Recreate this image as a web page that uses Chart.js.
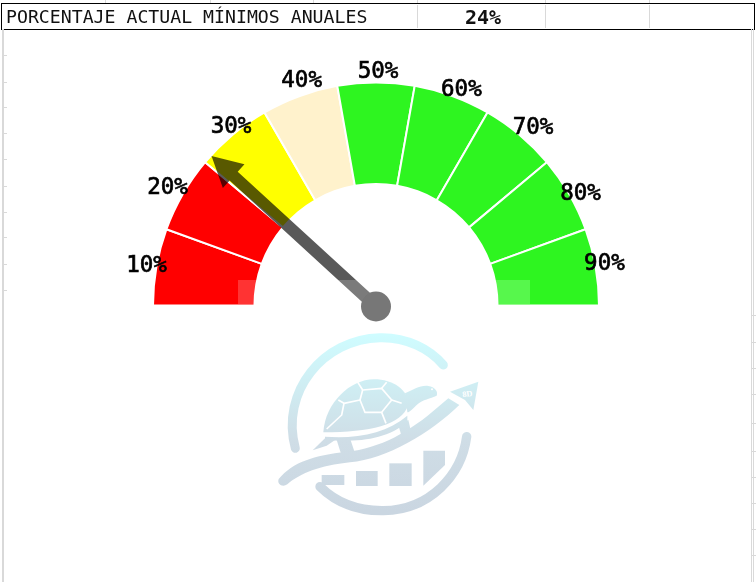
<!DOCTYPE html>
<html>
<head>
<meta charset="utf-8">
<script src="https://cdn.jsdelivr.net/npm/chart.js@4"></script>
<style>
  html, body { margin: 0; padding: 0; background: #fff; }
  #page { position: relative; width: 756px; height: 582px; overflow: hidden; font-family: "DejaVu Sans Mono", monospace; }
  #page > * { position: absolute; }
  #chart { left: 0; top: 0; }
  #logo { left: 270px; top: 325px; }
  #row { left: 1px; top: 3px; width: 752px; height: 25px; border: 1.5px solid #000; }
  #rowName { left: 6px; top: 5px; font-size: 18.2px; line-height: 24px; color: #111; }
  #rowValue { left: 465px; top: 5px; font-size: 20px; line-height: 24px; font-weight: bold; color: #111; }
  .v { width: 1px; background: #d9d9d9; }
  .h { height: 1px; background: #d9d9d9; }
</style>
</head>
<body>
<div id="page">
  <svg id="logo" width="220" height="200" viewBox="0 0 660 600">
    <defs>
      <linearGradient id="lg" gradientUnits="userSpaceOnUse" x1="0" y1="30" x2="0" y2="560">
        <stop offset="0" stop-color="#CFFCFF"/>
        <stop offset="0.35" stop-color="#CFEAF0"/>
        <stop offset="0.6" stop-color="#CFDDE6"/>
        <stop offset="1" stop-color="#CAD6E1"/>
      </linearGradient>
    </defs>
    <g fill="none" stroke="url(#lg)" stroke-linecap="round">
      <path stroke-width="27" d="M76 370 C30 200 160 42 330 38 C410 36 480 72 520 120"/>
      <path stroke-width="28" d="M590 335 C575 450 480 555 340 557 C260 558 195 530 150 485"/>
    </g>
    <g fill="url(#lg)">
      <path d="M26 462 C70 410 130 392 230 380 C330 370 420 320 505 245 L535 220 L568 240 C480 325 350 402 240 412 C150 422 90 445 52 478 C38 488 20 478 26 462 Z"/>
      <path d="M625 170 L610 255 L585 225 L540 200 Z"/>
      <path d="M160 322 C165 235 240 163 312 163 C370 163 415 195 415 240 C395 300 300 322 160 322 Z"/>
      <path d="M405 205 C430 195 450 180 475 183 C495 186 505 200 500 212 C480 222 460 222 440 240 C425 255 418 262 412 262 Z"/>
      <path d="M385 300 L415 285 L425 328 L398 345 Z"/>
      <path d="M200 345 L240 340 L255 385 L215 392 Z"/>
      <path d="M128 376 L165 340 L205 338 L170 362 Z"/>
      <path d="M165 335 C260 342 350 325 412 272 L412 290 C350 345 260 352 165 345 Z"/>
      <rect x="155" y="450" width="68" height="30"/>
      <rect x="258" y="438" width="65" height="45"/>
      <rect x="358" y="415" width="67" height="68"/>
      <path d="M460 377 H525 V420 L460 482 Z"/>
    </g>
    <g fill="none" stroke="#fff" stroke-width="5" stroke-linejoin="round">
      <path d="M278 195 L335 190 L365 225 L335 262 L285 262 L270 225 Z"/>
      <path d="M278 195 L262 170 M335 190 L350 172 M365 225 L395 235 M335 262 L348 295 M270 225 L222 235 L205 225 M222 235 L215 270 L170 312"/>
    </g>
    <circle cx="486" cy="193" r="3" fill="#fff"/>
    <text x="592" y="215" font-family="Liberation Serif" font-size="25" font-weight="bold" text-anchor="middle" fill="#fff" transform="rotate(-8 592 207)">8D</text>
  </svg>
  <canvas id="chart" width="756" height="582"></canvas>
  <div id="row"></div>
  <div id="rowName"></div>
  <div id="rowValue"></div>
</div>
<script>
// gauge sectors, all the same width
const gaugeLabels = ["10%", "20%", "30%", "40%", "50%", "60%", "70%", "80%", "90%"];
const gaugeSizes = [1, 1, 1, 1, 1, 1, 1, 1, 1];
const gaugeColors = ["#FF0000", "#FF0000", "#FFFF00", "#FFF2CC", "#2EF520", "#2EF520", "#2EF520", "#2EF520", "#2EF520"];
// where the needle sits, on a 0-100 half circle
const needleValue = 23.6;
const rowName = "PORCENTAJE ACTUAL MÍNIMOS ANUALES";
const rowValue = "24%";
// spreadsheet lines left visible behind the chart
const rowCols = [417, 545, 649];
const topCols = [105, 210, 313, 417, 545, 649];
const rightRows = [315, 342, 368, 394, 423, 451, 477, 503, 529, 555];
const leftRows = [55, 82, 107, 133, 159, 186, 212, 237, 264, 290];

document.getElementById("rowName").textContent = rowName;
document.getElementById("rowValue").textContent = rowValue;

const page = document.getElementById("page");
function addLine(cls, x, y, size) {
  const d = document.createElement("div");
  d.className = cls;
  d.style.left = x + "px";
  d.style.top = y + "px";
  if (cls == "v") d.style.height = size + "px"; else d.style.width = size + "px";
  page.appendChild(d);
}
rowCols.forEach(x => addLine("v", x, 5, 23));
topCols.forEach(x => addLine("v", x, 0, 3));
addLine("v", 2, 29, 553);
addLine("v", 3, 29, 553);
addLine("v", 751, 29, 553);
addLine("v", 753, 29, 553);
rightRows.forEach(y => addLine("h", 751, y, 5));
leftRows.forEach(y => addLine("h", 2, y, 5));

// the labels do not sit quite evenly round the arc
const labelNudgeX = [2, -5, 6, 6, 2, 5, 6, 1, -3];
const labelNudgeY = [1, 0, 2, -4, 2, 5, 3, 6, -1];

const gaugeDecor = {
  id: "gaugeDecor",
  afterDatasetsDraw(chart) {
    const ctx = chart.ctx;
    const arcs = chart.getDatasetMeta(0).data;
    const cx = arcs[0].x, cy = arcs[0].y, outer = arcs[0].outerRadius;

    // labels just outside each sector
    ctx.save();
    ctx.font = "22.5px 'DejaVu Sans Mono'";
    ctx.fillStyle = "#000";
    ctx.strokeStyle = "#000";
    ctx.lineWidth = 0.7;
    ctx.textAlign = "center";
    ctx.textBaseline = "middle";
    arcs.forEach((a, i) => {
      const mid = (a.startAngle + a.endAngle) / 2;
      const lx = cx + Math.cos(mid) * (outer + 12) + labelNudgeX[i];
      const ly = cy + Math.sin(mid) * (outer + 12) + labelNudgeY[i];
      ctx.fillText(gaugeLabels[i], lx, ly);
      ctx.strokeText(gaugeLabels[i], lx, ly);
    });
    ctx.restore();

    // needle
    const ang = Math.PI + Math.PI * needleValue / 100;
    ctx.save();
    ctx.translate(cx, cy + 1);
    ctx.rotate(ang);
    ctx.fillStyle = "rgba(0,0,0,0.65)";
    ctx.beginPath();
    ctx.moveTo(0, -6);
    ctx.lineTo(193, -6);
    ctx.lineTo(193, -16);
    ctx.lineTo(223, 0);
    ctx.lineTo(193, 16);
    ctx.lineTo(193, 6);
    ctx.lineTo(0, 6);
    ctx.closePath();
    ctx.fill();
    ctx.restore();

    // pale strip across the foot of the gauge
    ctx.fillStyle = "rgba(255,255,255,0.2)";
    ctx.fillRect(238, 280, 292, 24);

    // hub
    ctx.fillStyle = "#777777";
    ctx.beginPath();
    ctx.arc(cx, cy + 1, 15, 0, Math.PI * 2);
    ctx.fill();
  }
};

new Chart(document.getElementById("chart"), {
  type: "doughnut",
  data: {
    labels: gaugeLabels,
    datasets: [{
      data: gaugeSizes,
      backgroundColor: gaugeColors,
      borderColor: "#fff",
      borderWidth: 2
    }]
  },
  options: {
    responsive: false,
    animation: false,
    rotation: -90,
    circumference: 180,
    radius: 223,
    cutout: "54.5%",
    layout: { padding: { left: 154, right: 158, top: 83, bottom: 277 } },
    plugins: { legend: { display: false }, tooltip: { enabled: false } }
  },
  plugins: [gaugeDecor]
});
</script>
</body>
</html>
